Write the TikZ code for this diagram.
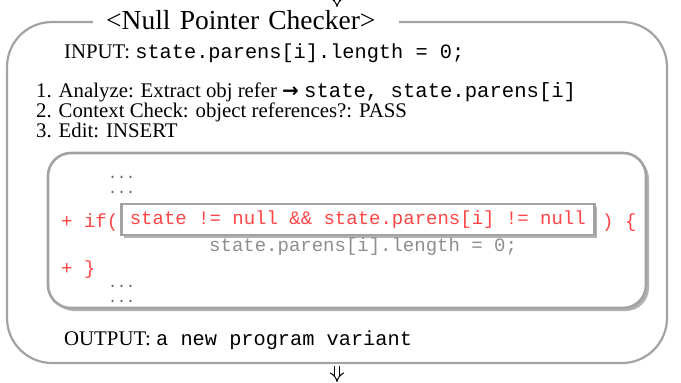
\documentclass[tikz,border=0pt]{standalone}
\usepackage{fontspec}
\setmainfont{Liberation Serif}
\setmonofont{Liberation Mono}
\newfontfamily\arrowfont{DejaVu Sans}
\usetikzlibrary{shadows,arrows.meta}
\definecolor{boxgray}{HTML}{A3A3A3}
\definecolor{codered}{HTML}{FF4545}
\definecolor{codegray}{HTML}{8E8E8E}
\definecolor{dotgray}{HTML}{606060}
\begin{document}
\begin{tikzpicture}[x=1pt,y=-1pt,
  bodytext/.style={anchor=base west,inner sep=0pt,font=\fontsize{20.8}{24}\selectfont},
  codetext/.style={anchor=base west,inner sep=0pt,font=\fontsize{19}{22}\selectfont\ttfamily},
  redcode/.style={codetext,text=codered},
  graycode/.style={codetext,text=codegray},
  dotcode/.style={anchor=base west,inner sep=0pt,font=\fontsize{15}{15}\selectfont\ttfamily,text=dotgray},
  flowarrow/.style={draw=black,line width=1pt,double=white,double distance=4pt,-{Implies}},
  softshadow/.style={drop shadow={shadow xshift=3pt,shadow yshift=-3pt,fill=black,opacity=0.3}}
]
\useasboundingbox (0,0) rectangle (681,383);
% outer box
\node[draw=boxgray,line width=2.2pt,rounded corners=45pt,minimum width=660pt,minimum height=341pt,inner sep=0pt] (outer) at (337,192.5) {};
% title
\node[fill=white,anchor=west,inner xsep=0pt,inner ysep=3pt,text width=306pt,align=left,font=\fontsize{27.5}{30}\selectfont] (title) at (93,20) {\hspace*{13pt}<Null Pointer Checker>};
% lines
\node[bodytext] (input) at (64,58) {INPUT: \texttt{\fontsize{20.3}{24}\selectfont state.parens[i].length = 0;}};
\node[bodytext] (step1) at (36,97) {1. Analyze: Extract obj refer {\arrowfont\bfseries\fontsize{20}{22}\selectfont →} \texttt{\fontsize{20.6}{24}\selectfont state, state.parens[i]}};
\node[bodytext] (step2) at (36,117) {2. Context Check: object references?: PASS};
\node[bodytext] (step3) at (36,137) {3. Edit: INSERT};
% inner code box
\node[draw=boxgray,line width=2.6pt,rounded corners=23pt,fill=white,softshadow,minimum width=598pt,minimum height=155pt,inner sep=0pt] (code) at (347,230.5) {};
\node[dotcode] (d1) at (108,178) {...};
\node[dotcode] (d2) at (108,193) {...};
\node[redcode] (ifl) at (61,227) {+ if(};
\node[draw=boxgray,line width=2.6pt,fill=white,softshadow,anchor=west,minimum height=31pt,inner xsep=8.5pt,inner ysep=0pt,text=codered,font=\fontsize{19}{22}\selectfont\ttfamily] (cond) at (120,219.5) {state != null \&\& state.parens[i] != null};
\node[redcode] (ifr) at (602,227) {) \{};
\node[graycode] (body) at (209,251) {state.parens[i].length = 0;};
\node[redcode] (close) at (61,274) {+ \}};
\node[dotcode] (d3) at (108,287) {...};
\node[dotcode] (d4) at (108,302) {...};
\node[bodytext] (output) at (64,345) {OUTPUT: \texttt{\fontsize{20.3}{24}\selectfont a new program variant}};
% arrows
\coordinate (topstart) at (337,-25);
\coordinate (topend) at (337,7);
\coordinate (botend) at (337,382);
\draw[flowarrow] (topstart) -- (topend);
\draw[flowarrow] ([yshift=-1.5pt]outer.south) -- (botend);
\end{tikzpicture}
\end{document}
